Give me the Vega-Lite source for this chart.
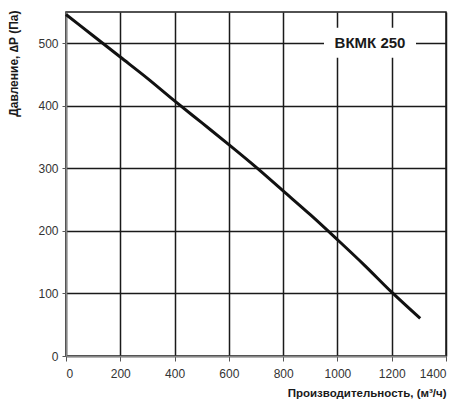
{
  "$schema": "https://vega.github.io/schema/vega-lite/v6.json",
  "width": 380,
  "height": 344,
  "autosize": {"type": "none"},
  "padding": {"left": 66, "top": 12, "right": 16, "bottom": 58},
  "background": "#ffffff",
  "datasets": {
    "curve": [
      {"q": 0, "p": 546},
      {"q": 100, "p": 512},
      {"q": 200, "p": 478},
      {"q": 300, "p": 444},
      {"q": 400, "p": 408},
      {"q": 500, "p": 373},
      {"q": 600, "p": 338},
      {"q": 700, "p": 302},
      {"q": 800, "p": 264},
      {"q": 900, "p": 226},
      {"q": 1000, "p": 186},
      {"q": 1100, "p": 145},
      {"q": 1200, "p": 102},
      {"q": 1305, "p": 60}
    ],
    "label": [
      {"q": 1120, "p": 501, "name": "ВКМК 250"}
    ]
  },
  "layer": [
    {
      "data": {"name": "curve"},
      "mark": {"type": "line", "color": "#111111", "strokeWidth": 3, "interpolate": "monotone"},
      "encoding": {
        "x": {
          "field": "q",
          "type": "quantitative",
          "scale": {"domain": [0, 1400], "nice": false},
          "axis": {
            "values": [0, 200, 400, 600, 800, 1000, 1200, 1400],
            "format": "d",
            "title": "Производительность, (м³/ч)",
            "titleX": 380,
            "titleY": 37,
            "titleAlign": "right",
            "titleBaseline": "middle",
            "tickSize": 5,
            "labelPadding": 7
          }
        },
        "y": {
          "field": "p",
          "type": "quantitative",
          "scale": {"domain": [0, 550], "nice": false},
          "axis": {
            "values": [0, 50, 100, 150, 200, 250, 300, 350, 400, 450, 500, 550],
            "format": "d",
            "labelExpr": "datum.value % 100 == 0 ? datum.label : ''",
            "tickOpacity": {"condition": {"test": "datum.value % 100 == 0 && datum.value < 550", "value": 1}, "value": 0},
            "title": "Давление, ∆P (Па)",
            "titleFontSize": 12,
            "titleAngle": -90,
            "titleX": -53,
            "titleY": -2,
            "titleAlign": "right",
            "titleBaseline": "middle",
            "tickSize": 4,
            "labelPadding": 4
          }
        }
      }
    },
    {
      "data": {"name": "label"},
      "mark": {"type": "rect", "color": "#ffffff", "width": 92, "height": 30},
      "encoding": {
        "x": {"field": "q", "type": "quantitative"},
        "y": {"field": "p", "type": "quantitative"}
      }
    },
    {
      "data": {"name": "label"},
      "mark": {"type": "text", "font": "Liberation Sans", "fontSize": 15, "fontWeight": "bold", "color": "#1a1a1a", "align": "center", "baseline": "middle"},
      "encoding": {
        "x": {"field": "q", "type": "quantitative"},
        "y": {"field": "p", "type": "quantitative"},
        "text": {"field": "name"}
      }
    }
  ],
  "config": {
    "font": "Liberation Sans",
    "view": {"stroke": "#1a1a1a", "strokeWidth": 1.5},
    "axis": {
      "grid": true,
      "gridColor": "#1a1a1a",
      "gridWidth": 1.5,
      "gridOpacity": 1,
      "domainColor": "#888888",
      "domainWidth": 1.5,
      "tickColor": "#555555",
      "labelFont": "Liberation Sans",
      "labelFontSize": 12,
      "labelColor": "#333333",
      "titleFont": "Liberation Sans",
      "titleFontSize": 11.5,
      "titleFontWeight": "bold",
      "titleColor": "#1a1a1a"
    }
  }
}
